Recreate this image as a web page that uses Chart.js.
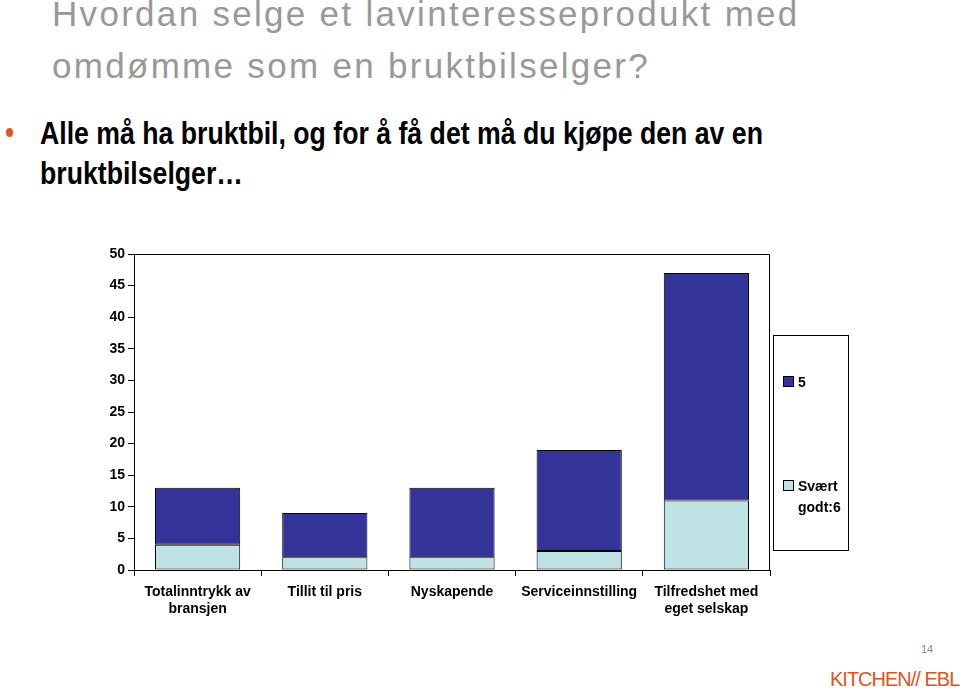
<!DOCTYPE html>
<html>
<head>
<meta charset="utf-8">
<script src="https://cdn.jsdelivr.net/npm/chart.js@4/dist/chart.umd.min.js"></script>
<style>
  body { margin: 0; width: 960px; height: 689px; background: #fff; overflow: hidden; position: relative; font-family: "Liberation Sans", Arial, sans-serif; }
  .title { position: absolute; left: 52px; top: -12px; color: #999; font-size: 35px; line-height: 52px; letter-spacing: 2.3px; font-weight: 300; white-space: nowrap; }
  .bullet { position: absolute; left: 40px; top: 114px; font-weight: bold; font-size: 31px; line-height: 40px; color: #000; white-space: nowrap; transform: scaleX(0.86); transform-origin: 0 0; }
  .dot { position: absolute; left: 6px; top: 128px; width: 7px; height: 9px; border-radius: 50%; background: #e0541e; }
  #wrap { position: absolute; left: 0; top: 230px; width: 960px; height: 410px; }
  #legend { position: absolute; left: 773px; top: 335px; width: 74px; height: 214px; border: 1px solid #000; font-weight: bold; font-size: 14px; }
  .item { position: absolute; left: 9px; line-height: 21px; }
  .sw { display: inline-block; width: 9px; height: 9px; border: 1px solid #000; margin-right: 4px; vertical-align: 0px; }
  .page { position: absolute; left: 921px; top: 643px; font-size: 11px; color: #888; }
  .brand { position: absolute; left: 830px; top: 668px; font-size: 20px; color: #e0541e; letter-spacing: -1px; white-space: nowrap; }
</style>
</head>
<body>
<div class="title">Hvordan selge et lavinteresseprodukt med<br>omdømme som en bruktbilselger?</div>
<div class="dot"></div>
<div class="bullet">Alle må ha bruktbil, og for å få det må du kjøpe den av en<br>bruktbilselger…</div>
<div id="wrap"><canvas id="barChart"></canvas></div>
<div id="legend"></div>
<div class="page">14</div>
<div class="brand">KITCHEN// EBL</div>
<script>
const categories = [['Totalinntrykk av', 'bransjen'], 'Tillit til pris', 'Nyskapende', 'Serviceinnstilling', ['Tilfredshet med', 'eget selskap']];
const seriesNames = ['Svært godt:6', '5'];
const veryGood = [4, 2, 2, 3, 11];
const good = [9, 7, 11, 16, 36];
const colors = ['#bfe2e4', '#333399'];

// frame on top and right of plot area
const frame = {
    id: 'frame',
    afterDraw(chart) {
        const a = chart.chartArea, c = chart.ctx;
        c.save();
        c.strokeStyle = '#000';
        c.lineWidth = 1;
        c.beginPath();
        c.moveTo(a.left, a.top + 0.5);
        c.lineTo(a.right - 0.5, a.top + 0.5);
        c.lineTo(a.right - 0.5, a.bottom);
        c.stroke();
        c.restore();
    }
};

const font = { family: '"Liberation Sans Narrow", "Arial Narrow", "Liberation Sans", sans-serif', weight: 'bold', size: 14 };

new Chart(document.getElementById('barChart').getContext('2d'), {
    type: 'bar',
    data: {
        labels: categories,
        datasets: [
            { label: seriesNames[0], data: veryGood, backgroundColor: colors[0], borderColor: '#000', borderWidth: 1, borderSkipped: false },
            { label: seriesNames[1], data: good, backgroundColor: colors[1], borderColor: '#000', borderWidth: 1, borderSkipped: false }
        ]
    },
    options: {
        responsive: true,
        maintainAspectRatio: false,
        animation: false,
        layout: { padding: { left: 94, right: 190, top: 24, bottom: 0 } },
        datasets: { bar: { categoryPercentage: 0.67, barPercentage: 1 } },
        plugins: { legend: { display: false }, tooltip: { enabled: false } },
        scales: {
            x: {
                stacked: true,
                afterFit: s => { s.height = 70; },
                grid: { drawOnChartArea: false, drawTicks: true, tickLength: 6, color: '#000' },
                border: { color: '#000', width: 1 },
                ticks: { color: '#000', font, padding: 8, maxRotation: 0, autoSkip: false }
            },
            y: {
                stacked: true,
                min: 0,
                max: 50,
                afterFit: s => { s.width = 40; },
                grid: { drawOnChartArea: false, drawTicks: true, tickLength: 6, color: '#000' },
                border: { color: '#000', width: 1 },
                ticks: { stepSize: 5, color: '#000', font, padding: 3 }
            }
        }
    },
    plugins: [frame]
});

// legend box, top series first
const legend = document.getElementById('legend');
const tops = [140, 36];
[1, 0].forEach(i => {
    const el = document.createElement('div');
    el.className = 'item';
    el.style.top = tops[i] + 'px';
    const name = seriesNames[i].replace(' ', '<br><span style="padding-left:15px"></span>');
    el.innerHTML = '<span class="sw" style="background:' + colors[i] + '"></span>' + name;
    legend.appendChild(el);
});
</script>
</body>
</html>
